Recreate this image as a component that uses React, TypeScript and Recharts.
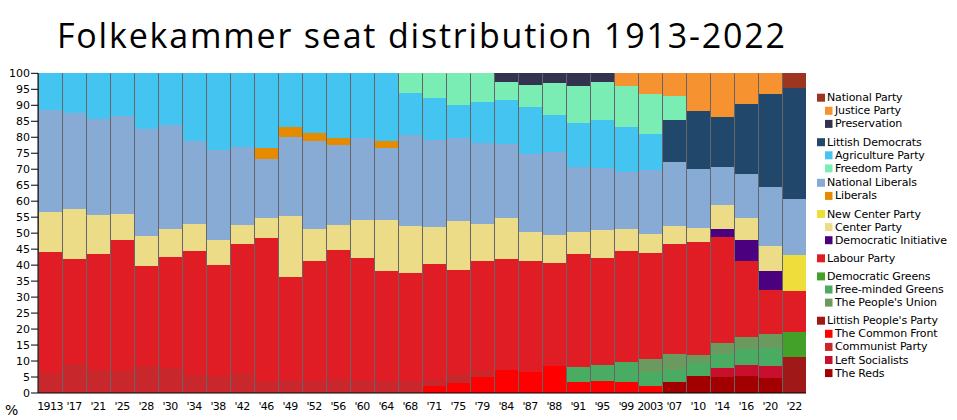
import { BarChart, Bar, XAxis, YAxis } from 'recharts';

// election years (x-axis labels)
const years = [
  '1913', "'17", "'21", "'25", "'28", "'30", "'34", "'38", "'42", "'46", "'49",
  "'52", "'56", "'60", "'64", "'68", "'71", "'75", "'79", "'84", "'87", "'88",
  "'91", "'95", "'99", '2003', "'07", "'10", "'14", "'16", "'20", "'22",
];

const yTicks = [0, 5, 10, 15, 20, 25, 30, 35, 40, 45, 50, 55, 60, 65, 70, 75, 80, 85, 90, 95, 100];

// seat share in %, one value per election
const theReds = [0, 0, 0, 0, 0, 0, 0, 0, 0, 0, 0, 0, 0, 0, 0, 0, 0, 0, 0, 0, 0, 0, 0, 0, 0, 0, 3.35, 5.2, 4.9, 5.2, 4.6, 0];
const leftSocialists = [0, 0, 0, 0, 0, 0, 0, 0, 0, 0, 0, 0, 0, 0, 0, 0, 0, 0, 0, 0, 0, 0, 0, 0, 0, 0, 0, 0, 2.8, 3.5, 3.75, 0];
const commonFront = [0, 0, 0, 0, 0, 0, 0, 0, 0, 0, 0, 0, 0, 0, 0, 0, 2.1, 3.0, 4.9, 7.1, 6.5, 8.35, 3.35, 3.65, 3.35, 2.1, 0, 0, 0, 0, 0, 0];
const communistParty = [6.1, 9.1, 7.1, 6.8, 8.6, 7.8, 5.5, 5.3, 6.2, 3.4, 4.1, 3.8, 4.5, 4.0, 3.65, 3.65, 2.1, 3.05, 1.9, 0, 0, 0, 0, 0, 0, 0, 0, 0, 0, 0, 0, 0];
const littishPeoples = [0, 0, 0, 0, 0, 0, 0, 0, 0, 0, 0, 0, 0, 0, 0, 0, 0, 0, 0, 0, 0, 0, 0, 0, 0, 0, 0, 0, 0, 0, 0, 11.3];
const freeMindedGreens = [0, 0, 0, 0, 0, 0, 0, 0, 0, 0, 0, 0, 0, 0, 0, 0, 0, 0, 0, 0, 0, 0, 4.65, 5.05, 6.25, 4.4, 3.75, 4.1, 4.4, 5.0, 5.65, 0];
const peoplesUnion = [0, 0, 0, 0, 0, 0, 0, 0, 0, 0, 0, 0, 0, 0, 0, 0, 0, 0, 0, 0, 0, 0, 0, 0, 0, 4.0, 5.0, 2.5, 3.45, 3.7, 4.4, 0];
const democraticGreens = [0, 0, 0, 0, 0, 0, 0, 0, 0, 0, 0, 0, 0, 0, 0, 0, 0, 0, 0, 0, 0, 0, 0, 0, 0, 0, 0, 0, 0, 0, 0, 7.7];
const labourParty = [38.0, 32.8, 36.3, 41.0, 31.1, 34.7, 38.9, 34.7, 40.4, 45.0, 32.1, 37.4, 40.2, 38.2, 34.45, 33.85, 36.1, 32.35, 34.4, 34.8, 34.7, 32.25, 35.4, 33.5, 34.8, 33.2, 34.5, 35.4, 33.15, 23.8, 13.75, 12.8];
const democraticInitiative = [0, 0, 0, 0, 0, 0, 0, 0, 0, 0, 0, 0, 0, 0, 0, 0, 0, 0, 0, 0, 0, 0, 0, 0, 0, 0, 0, 0, 2.55, 6.6, 5.95, 0];
const centerParty = [12.5, 15.7, 12.2, 8.15, 9.4, 8.75, 8.4, 7.8, 5.9, 6.3, 19.1, 10.05, 7.8, 11.9, 16.0, 14.7, 11.6, 15.4, 11.6, 12.8, 9.1, 8.8, 6.9, 8.7, 6.85, 6.0, 5.6, 4.4, 7.55, 6.9, 7.8, 0];
const newCenterParty = [0, 0, 0, 0, 0, 0, 0, 0, 0, 0, 0, 0, 0, 0, 0, 0, 0, 0, 0, 0, 0, 0, 0, 0, 0, 0, 0, 0, 0, 0, 0, 11.3];
const nationalLiberals = [31.9, 29.9, 30.1, 30.8, 33.5, 32.6, 26.0, 28.3, 24.4, 18.5, 24.8, 27.55, 25.1, 25.6, 22.5, 28.5, 27.2, 25.9, 25.4, 23.2, 24.4, 26.0, 20.4, 19.5, 17.85, 20.0, 20.0, 18.4, 11.9, 13.8, 18.5, 17.5];
const liberals = [0, 0, 0, 0, 0, 0, 0, 0, 0, 3.4, 3.1, 2.5, 2.1, 0, 2.2, 0, 0, 0, 0, 0, 0, 0, 0, 0, 0, 0, 0, 0, 0, 0, 0, 0];
const agricultureParty = [11.5, 12.6, 14.3, 13.3, 17.4, 16.2, 21.2, 23.9, 23.1, 23.4, 16.8, 18.7, 20.3, 20.3, 21.2, 13.1, 13.2, 10.4, 12.8, 13.7, 14.8, 11.6, 13.7, 15.0, 14.1, 11.3, 0, 0, 0, 0, 0, 0];
const littishDemocrats = [0, 0, 0, 0, 0, 0, 0, 0, 0, 0, 0, 0, 0, 0, 0, 0, 0, 0, 0, 0, 0, 0, 0, 0, 0, 0, 13.2, 18.2, 15.6, 21.9, 29.1, 34.8];
const freedomParty = [0, 0, 0, 0, 0, 0, 0, 0, 0, 0, 0, 0, 0, 0, 0, 6.2, 7.7, 9.9, 9.0, 5.7, 6.8, 10.0, 11.6, 11.9, 12.8, 12.5, 7.5, 0, 0, 0, 0, 0];
const preservation = [0, 0, 0, 0, 0, 0, 0, 0, 0, 0, 0, 0, 0, 0, 0, 0, 0, 0, 0, 2.7, 3.7, 3.0, 4.0, 2.7, 0, 0, 0, 0, 0, 0, 0, 0];
const justiceParty = [0, 0, 0, 0, 0, 0, 0, 0, 0, 0, 0, 0, 0, 0, 0, 0, 0, 0, 0, 0, 0, 0, 0, 0, 4.0, 6.5, 7.1, 11.8, 13.7, 9.6, 6.5, 0];
const nationalParty = [0, 0, 0, 0, 0, 0, 0, 0, 0, 0, 0, 0, 0, 0, 0, 0, 0, 0, 0, 0, 0, 0, 0, 0, 0, 0, 0, 0, 0, 0, 0, 4.6];

// stacking order, bottom to top
const series = [
  { key: 'reds', name: 'The Reds', color: '#a20000', values: theReds },
  { key: 'leftsoc', name: 'Left Socialists', color: '#c8102e', values: leftSocialists },
  { key: 'front', name: 'The Common Front', color: '#ff0000', values: commonFront },
  { key: 'comm', name: 'Communist Party', color: '#c8282c', values: communistParty },
  { key: 'lpp', name: "Littish People's Party", color: '#a01818', values: littishPeoples },
  { key: 'fmg', name: 'Free-minded Greens', color: '#4aac62', values: freeMindedGreens },
  { key: 'union', name: "The People's Union", color: '#6a9a5e', values: peoplesUnion },
  { key: 'dgreens', name: 'Democratic Greens', color: '#43a12a', values: democraticGreens },
  { key: 'labour', name: 'Labour Party', color: '#e01c24', values: labourParty },
  { key: 'di', name: 'Democratic Initiative', color: '#4b007f', values: democraticInitiative },
  { key: 'center', name: 'Center Party', color: '#ecdb87', values: centerParty },
  { key: 'newcenter', name: 'New Center Party', color: '#eedd3b', values: newCenterParty },
  { key: 'natlib', name: 'National Liberals', color: '#88abd5', values: nationalLiberals },
  { key: 'liberals', name: 'Liberals', color: '#e68a00', values: liberals },
  { key: 'agri', name: 'Agriculture Party', color: '#44c4f0', values: agricultureParty },
  { key: 'ld', name: 'Littish Democrats', color: '#21476b', values: littishDemocrats },
  { key: 'freedom', name: 'Freedom Party', color: '#7aedb4', values: freedomParty },
  { key: 'pres', name: 'Preservation', color: '#333350', values: preservation },
  { key: 'justice', name: 'Justice Party', color: '#f69230', values: justiceParty },
  { key: 'natparty', name: 'National Party', color: '#9c3620', values: nationalParty },
];

const data = years.map((label, i) => {
  const row: Record<string, any> = { label };
  series.forEach((s) => {
    row[s.key] = s.values[i];
  });
  return row;
});

// legend: [name, sub-item?]
const legendGroups: [string, boolean][][] = [
  [['National Party', false], ['Justice Party', true], ['Preservation', true]],
  [['Littish Democrats', false], ['Agriculture Party', true], ['Freedom Party', true]],
  [['National Liberals', false], ['Liberals', true]],
  [['New Center Party', false], ['Center Party', true], ['Democratic Initiative', true]],
  [['Labour Party', false]],
  [['Democratic Greens', false], ['Free-minded Greens', true], ["The People's Union", true]],
  [["Littish People's Party", false], ['The Common Front', true], ['Communist Party', true], ['Left Socialists', true], ['The Reds', true]],
];
const groupGaps = [0, 5.2, 1.3, 5, 5, 5, 5];

const FONT = '"DejaVu Sans", Verdana, sans-serif';

const Segment = (props: any) => {
  const { x, y, width, height, fill } = props;
  if (!height || height <= 0) return null;
  return (
    <g>
      <rect x={x} y={y} width={width} height={height} fill={fill} shapeRendering="crispEdges" />
      <line x1={x + 0.5} x2={x + 0.5} y1={y} y2={y + height} stroke="#666" />
    </g>
  );
};

function Legend() {
  const colorOf = (name: string) => series.find((s) => s.name === name)?.color;
  const items: JSX.Element[] = [];
  let row = 0;
  let gap = 0;
  legendGroups.forEach((group, gi) => {
    gap += groupGaps[gi];
    group.forEach(([name, sub]) => {
      const cy = 97.7 + row * 13.1 + gap;
      items.push(
        <g key={name}>
          <rect
            x={sub ? 825 : 817}
            y={cy - 4}
            width={sub ? 7.5 : 8}
            height={8}
            fill={colorOf(name)}
          />
          <text x={sub ? 835 : 827} y={cy} dominantBaseline="central" fontSize={11} fontFamily={FONT} fill="#000" letterSpacing={-0.15}>
            {name}
          </text>
        </g>
      );
      row += 1;
    });
  });
  return <g>{items}</g>;
}

export default function App() {
  return (
    <div style={{ position: 'absolute', left: 0, top: 0, width: 957, height: 420, background: '#fff' }}>
      <BarChart
        width={957}
        height={420}
        data={data}
        margin={{ top: 73, right: 151, bottom: 0, left: 0 }}
        barCategoryGap={0}
        barGap={0}
      >
        <XAxis
          dataKey="label"
          interval={0}
          height={27}
          tickLine={false}
          tickMargin={3}
          axisLine={{ stroke: '#000' }}
          tick={{ fill: '#000', fontSize: 11, fontFamily: FONT, letterSpacing: -0.6 } as any}
        />
        <XAxis xAxisId="top" dataKey="label" orientation="top" height={0} tick={false} tickLine={false} axisLine={{ stroke: '#000' }} />
        <YAxis
          type="number"
          domain={[0, 100]}
          ticks={yTicks}
          interval={0}
          width={38}
          tickSize={7}
          tickMargin={1}
          tickLine={{ stroke: '#000' }}
          axisLine={{ stroke: '#000' }}
          tick={{ fill: '#000', fontSize: 11, fontFamily: FONT }}
        />
        <YAxis yAxisId="right" orientation="right" type="number" domain={[0, 100]} width={0} tick={false} tickLine={false} axisLine={{ stroke: '#000' }} />
        {series.map((s) => (
          <Bar
            key={s.key}
            dataKey={s.key}
            name={s.name}
            stackId="seats"
            fill={s.color}
            shape={<Segment />}
            isAnimationActive={false}
          />
        ))}
      </BarChart>
      <svg width={957} height={420} style={{ position: 'absolute', left: 0, top: 0, pointerEvents: 'none' }}>
        <text x={57} y={48} fontSize={34} fontFamily='"Open Sans", Lato, sans-serif' textLength={728} lengthAdjust="spacing" fill="#000">
          Folkekammer seat distribution 1913-2022
        </text>
        <text x={5} y={415} fontSize={14} fontFamily={FONT} fill="#000">
          %
        </text>
        <Legend />
      </svg>
    </div>
  );
}
